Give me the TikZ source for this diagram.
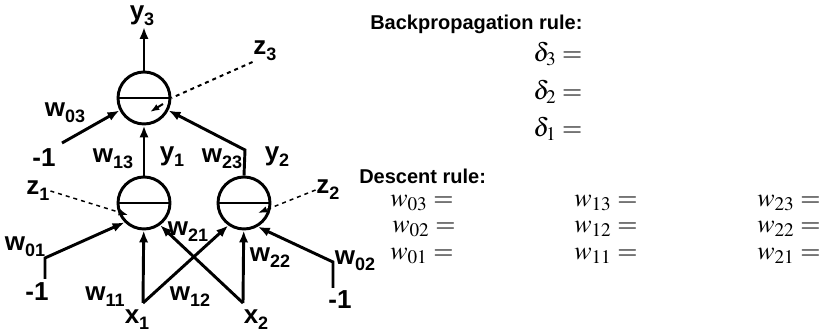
\documentclass[tikz,border=0pt]{standalone}
\usepackage{mathptmx}
\usepackage[no-math]{fontspec}
\newfontfamily\labfont{Liberation Sans}
\usetikzlibrary{
    arrows.meta
}
\tikzset{
  neuron/.style={
    draw,
    circle,
    minimum size=39pt,
    inner sep=0pt,
    line width=2.2pt
  },
  lab/.style={
    font={\labfont\bfseries\fontsize{19.5}{19.5}\selectfont},
    inner sep=0.5pt
  },
  arr/.style={
    line width=2.2pt,
    -{Latex[length=9pt,width=7pt]}
  },
  zline/.style={
    dashed,
    line width=1.1pt,
    -{Latex[length=7pt,width=5pt]}
  },
  rulehead/.style={
    font={\labfont\bfseries\fontsize{15}{15}\selectfont},
    anchor=west,
    inner sep=0pt
  },
  eq/.style={
    font={\fontsize{19.5}{19.5}\selectfont},
    anchor=west,
    inner sep=0pt
  }
}
\newcommand{\lsub}[2]{#1\raisebox{-0.45ex}{\fontsize{13.5}{13.5}\selectfont #2}}

\begin{document}
\begin{tikzpicture}[x=0.75pt,y=-0.75pt]
    \useasboundingbox (0,0) rectangle (829,334);

    %-------------------------
    % neurons
    %-------------------------
    \node[neuron] (n3) at (144,98) {};
    \node[neuron] (n1) at (144,203) {};
    \node[neuron] (n2) at (244,203) {};
    \draw[line width=2.2pt] (n3.west) -- (n3.east);
    \draw[line width=2.2pt] (n1.west) -- (n1.east);
    \draw[line width=2.2pt] (n2.west) -- (n2.east);

    %-------------------------
    % points
    %-------------------------
    \coordinate (o3) at (144,27);
    \coordinate (b3) at (62,143);
    \coordinate (c23) at (245,150);
    \coordinate (b1) at (45,279);
    \coordinate (b1c) at (45,258);
    \coordinate (b2) at (333,288);
    \coordinate (b2c) at (333,262);
    \coordinate (p1) at (143,303);
    \coordinate (p2) at (243,303);
    \coordinate (i1) at (128,215);
    \coordinate (i2) at (258,213);
    \coordinate (i3a) at (163,104);
    \coordinate (i3b) at (150,112);

    %-------------------------
    % labels
    %-------------------------
    \node[lab] (y3) at (142,16) {\lsub{y}{3}};
    \node[lab] (z3) at (265,51) {\lsub{z}{3}};
    \node[lab] (w03) at (65,113) {\lsub{w}{03}};
    \node[lab] (m3) at (44,158) {-1};
    \node[lab] (w13) at (113,159) {\lsub{w}{13}};
    \node[lab] (y1) at (172,157) {\lsub{y}{1}};
    \node[lab] (w23) at (222,159) {\lsub{w}{23}};
    \node[lab] (y2) at (277,157) {\lsub{y}{2}};
    \node[lab] (z1) at (38,191) {\lsub{z}{1}};
    \node[lab] (z2) at (328,190) {\lsub{z}{2}};
    \node[lab] (w01) at (25,247) {\lsub{w}{01}};
    \node[lab] (m1) at (37,292) {-1};
    \node[lab] (w21) at (188,232) {\lsub{w}{21}};
    \node[lab] (w22) at (270,258) {\lsub{w}{22}};
    \node[lab] (w02) at (355,261) {\lsub{w}{02}};
    \node[lab] (m2) at (340,300) {-1};
    \node[lab] (w11) at (105,297) {\lsub{w}{11}};
    \node[lab] (w12) at (190,297) {\lsub{w}{12}};
    \node[lab] (x1) at (137,320) {\lsub{x}{1}};
    \node[lab] (x2) at (256,320) {\lsub{x}{2}};

    %-------------------------
    % connections
    %-------------------------
    \draw[arr] (n3) -- (o3);
    \draw[arr] (b3) -- (n3.207);
    \draw[arr] (n1) -- (n3);
    \draw[arr] (n2.north) -- (c23) -- (n3.-27);
    \draw[arr] (b1) -- (b1c) -- (n1.225);
    \draw[arr] (b2) -- (b2c) -- (n2.-60);
    \draw[arr] (p1) -- (n1);
    \draw[arr] (p1) -- (n2.235);
    \draw[arr] (p2) -- (n2);
    \draw[arr] (p2) -- (n1.306);

    \draw[dashed,line width=1.5pt] (z3.south west) -- (n3.east);
    \draw[line width=1.5pt,-{Latex[length=7pt,width=5pt]}] (i3a) -- (i3b);
    \draw[zline] (z1.east) -- (i1);
    \draw[zline] (z2.west) -- (i2);

    %-------------------------
    % rules
    %-------------------------
    \node[rulehead] (bp) at (370,24) {Backpropagation rule:};
    \node[eq] (d3) at (533,54) {$\delta_3 =$};
    \node[eq] (d2) at (533,92) {$\delta_2 =$};
    \node[eq] (d1) at (533,129) {$\delta_1 =$};

    \node[rulehead] (dr) at (359,176) {Descent rule:};
    \node[eq] (e03) at (390,203) {$w_{03} =$};
    \node[eq] (e02) at (392,229) {$w_{02} =$};
    \node[eq] (e01) at (390,256) {$w_{01} =$};
    \node[eq] (e13) at (574,203) {$w_{13} =$};
    \node[eq] (e12) at (574,229) {$w_{12} =$};
    \node[eq] (e11) at (574,256) {$w_{11} =$};
    \node[eq] (e23) at (757,203) {$w_{23} =$};
    \node[eq] (e22) at (757,229) {$w_{22} =$};
    \node[eq] (e21) at (757,256) {$w_{21} =$};
\end{tikzpicture}
\end{document}
